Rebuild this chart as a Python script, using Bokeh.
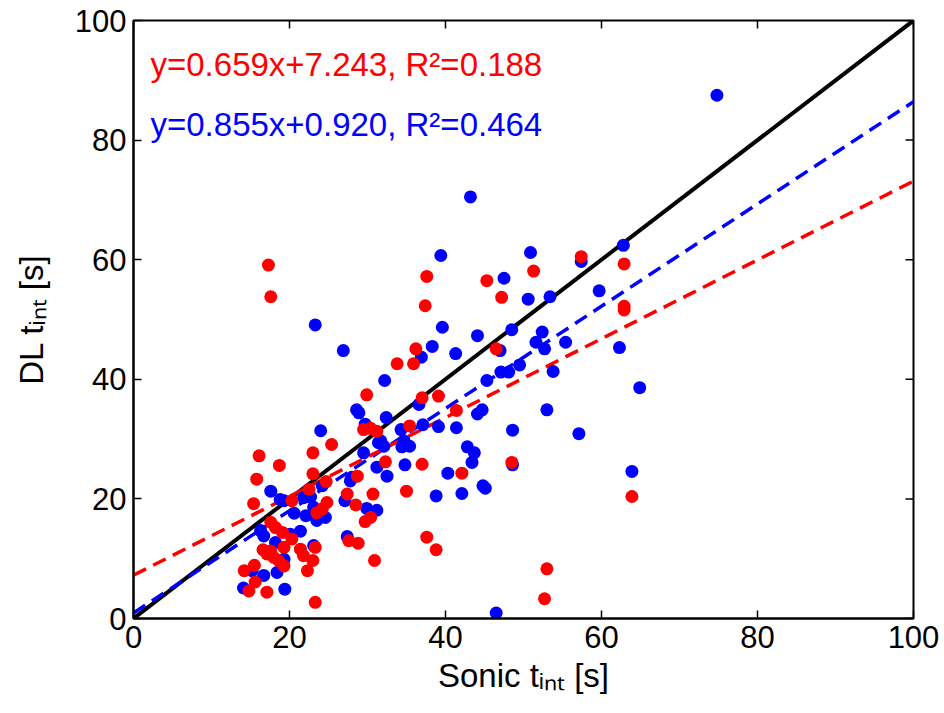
import numpy as np
from bokeh.plotting import figure
from bokeh.models import Range1d, Label, FixedTicker
from bokeh.embed import file_html
from bokeh.resources import INLINE

# ---------------- data ----------------
sonic_red = [17.3, 17.6, 16.1, 15.8, 15.4, 16.6, 14.2, 15.5, 15.6, 14.8,
             33.8, 29.9, 29.5, 30.4, 31.2, 25.4, 23.0, 18.7, 23.0, 20.3,
             22.5, 24.7, 28.7, 27.4, 30.7, 28.5, 30.4, 29.7, 24.8, 24.2,
             23.5, 17.6, 18.2, 19.1, 20.3, 23.3, 21.4, 21.8, 23.0, 22.3,
             27.6, 28.8, 30.9, 17.1, 17.6, 18.0, 18.6, 19.3, 19.3, 17.1,
             23.3, 51.3, 37.6, 45.3, 37.4, 47.2, 36.2, 35.9, 46.5, 37.0,
             39.1, 41.4, 35.4, 48.5, 37.0, 32.3, 42.1, 35.0, 37.6, 38.8,
             53.0, 52.7, 57.4, 62.9, 62.9, 62.9, 63.9]
dl_red = [59.1, 53.8, 27.2, 23.3, 19.2, 11.5, 8.0, 8.9, 6.1, 4.6,
          42.6, 37.4, 31.6, 31.8, 31.3, 29.1, 27.7, 25.6, 24.2, 19.7,
          21.6, 22.9, 23.8, 20.8, 20.8, 19.0, 16.9, 16.2, 19.4, 18.3,
          17.7, 16.1, 15.2, 14.4, 13.3, 11.9, 11.6, 10.5, 9.7, 8.0,
          13.0, 12.6, 9.7, 10.8, 11.3, 10.2, 9.7, 8.8, 11.9, 4.4,
          2.7, 58.1, 57.2, 56.5, 52.3, 53.7, 45.1, 42.6, 45.1, 36.9,
          37.2, 34.8, 32.2, 26.1, 25.8, 26.2, 24.3, 21.3, 13.6, 11.5,
          8.3, 3.3, 60.5, 59.3, 52.2, 51.6, 20.4]

sonic_blue = [74.8, 23.3, 26.9, 32.2, 28.6, 28.9, 32.4, 29.7, 31.7, 32.1,
              24.0, 17.6, 18.8, 19.3, 24.2, 21.8, 22.7, 27.1, 27.8, 28.0,
              29.9, 31.2, 24.6, 23.5, 23.1, 20.6, 22.1, 21.4, 16.3, 16.7,
              20.1, 18.2, 23.1, 27.4, 19.3, 18.4, 16.7, 19.4, 14.1, 15.2,
              43.2, 39.4, 50.9, 47.5, 50.6, 53.4, 39.6, 44.1, 48.5, 52.4,
              51.6, 52.7, 38.3, 36.9, 41.3, 47.0, 45.3, 47.1, 48.1, 49.5,
              53.0, 53.8, 36.6, 44.1, 44.7, 34.3, 34.7, 35.4, 34.4, 37.1,
              39.1, 41.4, 42.8, 43.7, 43.4, 48.6, 48.6, 34.8, 40.3, 38.8,
              42.1, 44.8, 45.1, 46.5, 62.8, 57.4, 59.7, 55.4, 62.3, 64.9,
              57.1, 63.9, 30.0, 31.4, 29.5, 31.2, 32.5]
dl_blue = [87.5, 49.1, 44.8, 39.8, 34.9, 34.4, 33.6, 32.5, 29.7, 28.8,
           31.4, 21.3, 19.9, 19.7, 22.2, 20.2, 20.3, 19.7, 23.0, 23.6,
           18.4, 18.1, 16.9, 16.4, 18.6, 17.6, 17.2, 14.6, 14.7, 13.8,
           14.1, 12.7, 12.2, 13.7, 9.9, 7.7, 7.2, 4.9, 5.1, 8.0,
           70.5, 60.7, 61.2, 56.9, 53.4, 53.8, 48.7, 47.3, 48.3, 47.9,
           46.2, 45.1, 45.5, 43.7, 44.3, 44.8, 39.8, 41.2, 41.2, 42.4,
           34.9, 41.3, 35.8, 34.2, 34.9, 31.6, 29.7, 28.8, 28.7, 32.4,
           32.1, 31.9, 28.7, 27.7, 26.1, 31.5, 25.7, 25.7, 24.3, 20.5,
           20.9, 22.2, 21.8, 0.9, 62.4, 59.7, 54.8, 46.2, 45.3, 38.6,
           30.9, 24.6, 32.0, 29.4, 27.7, 25.3, 23.8]

fit_red = {"slope": 0.659, "intercept": 7.243, "r2": 0.188}
fit_blue = {"slope": 0.855, "intercept": 0.920, "r2": 0.464}
axis_limits = [0, 100]
tick_values = [0, 20, 40, 60, 80, 100]
x_label = "Sonic t\u1d62\u2099\u209c [s]"
y_label = "DL t\u1d62\u2099\u209c [s]"

RED = "#ff0000"
BLUE = "#0000ff"
FONT = "Liberation Sans"

# ---------------- figure ----------------
p = figure(width=944, height=713, output_backend="svg", toolbar_location=None,
           x_range=Range1d(*axis_limits), y_range=Range1d(*axis_limits),
           min_border_left=133, min_border_right=31, min_border_top=20,
           min_border_bottom=95)
p.xgrid.visible = False
p.ygrid.visible = False
p.outline_line_color = "black"
p.outline_line_width = 2
p.background_fill_color = "white"
p.border_fill_color = "white"

for ax in (p.xaxis[0], p.yaxis[0]):
    ax.ticker = FixedTicker(ticks=tick_values)
    ax.minor_tick_line_color = None
    ax.major_tick_in = 8
    ax.major_tick_out = 0
    ax.major_tick_line_width = 1.5
    ax.major_tick_line_color = "black"
    ax.axis_line_color = "black"
    ax.axis_line_width = 2
    ax.major_label_text_font = FONT
    ax.major_label_text_font_size = "31px"
    ax.major_label_text_color = "black"
    ax.major_label_standoff = 7
    ax.axis_label_text_font = FONT
    ax.axis_label_text_font_size = "33px"
    ax.axis_label_text_font_style = "normal"
    ax.axis_label_text_color = "black"

p.xaxis[0].axis_label = x_label
p.xaxis[0].axis_label_standoff = 6
p.yaxis[0].axis_label = y_label
p.yaxis[0].axis_label_standoff = 22

# ticks on the top and right edges of the box (pointing inwards)
n = len(tick_values)
p.ray(x=tick_values, y=[axis_limits[1]] * n, length=8, length_units="screen",
      angle=-np.pi / 2, line_color="black", line_width=1.5)
p.ray(x=[axis_limits[1]] * n, y=tick_values, length=8, length_units="screen",
      angle=np.pi, line_color="black", line_width=1.5)

# ---------------- lines ----------------
xs = np.array(axis_limits, dtype=float)
p.line(xs, xs, line_color="black", line_width=4)
p.line(xs, fit_blue["slope"] * xs + fit_blue["intercept"], line_color=BLUE,
       line_width=3.5, line_dash="14 8")
p.line(xs, fit_red["slope"] * xs + fit_red["intercept"], line_color=RED,
       line_width=3.5, line_dash="14 8")

# ---------------- points ----------------
p.scatter(sonic_blue, dl_blue, size=13, fill_color=BLUE, line_color=None)
p.scatter(sonic_red, dl_red, size=13, fill_color=RED, line_color=None)

# ---------------- annotations ----------------
def eq_text(f):
    return "y=%.3fx+%.3f, R\u00b2=%.3f" % (f["slope"], f["intercept"], f["r2"])

p.add_layout(Label(x=0, y=100, x_offset=17, y_offset=-44, text=eq_text(fit_red),
                   text_color=RED, text_font=FONT, text_font_size="33px",
                   text_baseline="alphabetic"))
p.add_layout(Label(x=0, y=100, x_offset=17, y_offset=-104, text=eq_text(fit_blue),
                   text_color=BLUE, text_font=FONT, text_font_size="33px",
                   text_baseline="alphabetic"))

open("out.html", "w").write(file_html(p, INLINE))
